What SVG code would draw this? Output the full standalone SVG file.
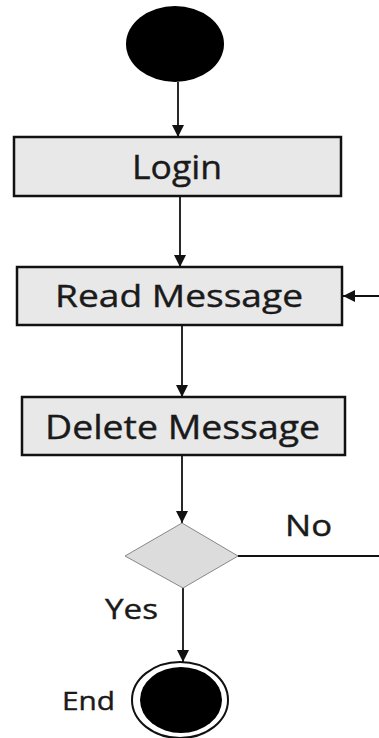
<svg xmlns="http://www.w3.org/2000/svg" width="379" height="738" viewBox="0 0 379 738">
<style>
.box{fill:#e8e8e8;stroke:#111;stroke-width:2.5}
.lbl{font-family:"Open Sans","Noto Sans",sans-serif;fill:#1a1a1a;stroke:#1a1a1a;stroke-width:0.4}
.edge{stroke:#111;stroke-width:1.8;fill:none}
</style>
<defs>
<marker id="arr" viewBox="0 0 12 12" refX="12" refY="6" markerWidth="12" markerHeight="12" markerUnits="userSpaceOnUse" orient="auto">
<path d="M0,0 L12,6 L0,12 z" fill="#111"/>
</marker>
</defs>
<rect width="379" height="738" fill="#fff"/>
<g id="connectors">
<line class="edge" x1="178" y1="82" x2="178" y2="137" marker-end="url(#arr)"/>
<line class="edge" x1="180" y1="197" x2="180" y2="267" marker-end="url(#arr)"/>
<line class="edge" x1="182" y1="325" x2="182" y2="397" marker-end="url(#arr)"/>
<line class="edge" x1="182" y1="455" x2="182" y2="523" marker-end="url(#arr)"/>
<line class="edge" x1="183" y1="588" x2="183" y2="662" marker-end="url(#arr)"/>
<path class="edge" d="M238,556 H386 V296 H343" marker-end="url(#arr)"/>
<text class="lbl" x="285" y="536" font-size="29" textLength="47" lengthAdjust="spacingAndGlyphs">No</text>
<text class="lbl" x="105" y="619" font-size="28" textLength="53" lengthAdjust="spacingAndGlyphs">Yes</text>
</g>
<g id="start">
<ellipse cx="175" cy="44" rx="49" ry="38" fill="#000"/>
</g>
<g id="login">
<rect class="box" x="14" y="137" width="327" height="59"/>
<text class="lbl" x="132" y="179" font-size="32" textLength="90" lengthAdjust="spacingAndGlyphs">Login</text>
</g>
<g id="read">
<rect class="box" x="17" y="267" width="325" height="58"/>
<text class="lbl" x="55" y="307" font-size="31" textLength="248" lengthAdjust="spacingAndGlyphs">Read Message</text>
</g>
<g id="delete">
<rect class="box" x="22" y="397" width="323" height="58"/>
<text class="lbl" x="45" y="439" font-size="32" textLength="275" lengthAdjust="spacingAndGlyphs">Delete Message</text>
</g>
<g id="decision">
<polygon points="182,523 238,556 183,588 125,556" fill="#dcdcdc" stroke="#888" stroke-width="1"/>
</g>
<g id="end">
<ellipse cx="180" cy="700" rx="48" ry="38" fill="#fff" stroke="#111" stroke-width="2"/>
<ellipse cx="181" cy="700" rx="41" ry="33" fill="#000"/>
<text class="lbl" x="62" y="710" font-size="25" textLength="53" lengthAdjust="spacingAndGlyphs">End</text>
</g>
</svg>
